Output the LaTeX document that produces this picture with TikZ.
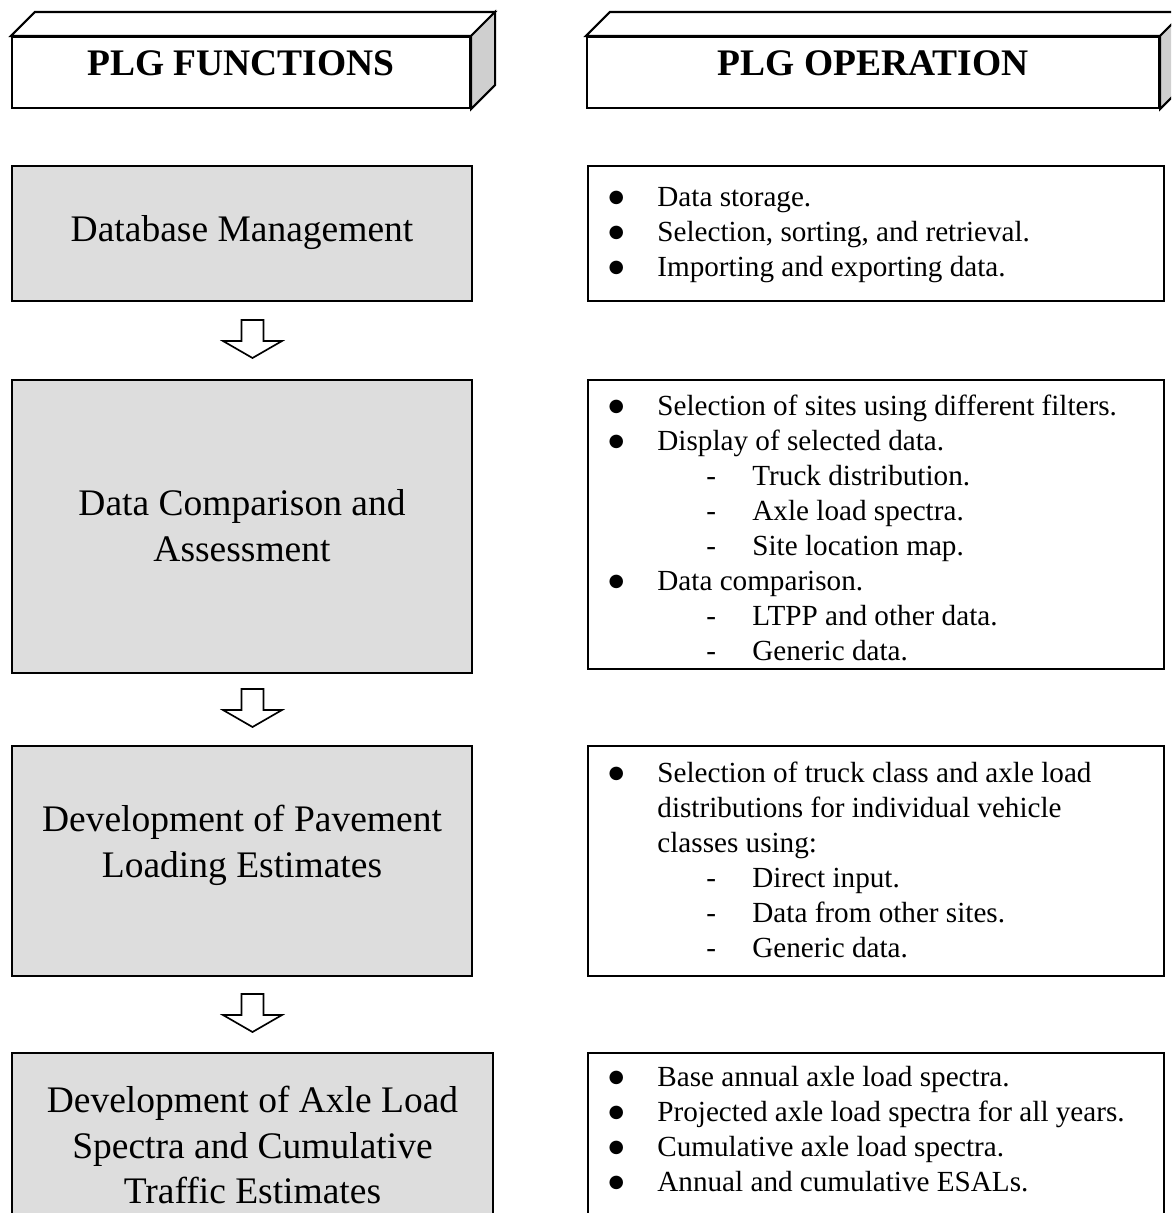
\documentclass[tikz,border=0pt]{standalone}
\usepackage{fontspec}
\setmainfont{Liberation Serif}
\newfontfamily\symfont{DejaVu Sans}
\usetikzlibrary{calc,fit}
\definecolor{boxgray}{HTML}{DDDDDD}
\definecolor{sidegray}{HTML}{CFCFCF}
\newcommand{\bitem}{\makebox[24.96pt][l]{\makebox[10.56pt][c]{\raisebox{2.1pt}{\symfont\fontsize{8.5}{8.5}\selectfont ●}}}}
\newcommand{\ditem}{\makebox[70.56pt][l]{\hspace{48.5pt}-}}
\newcommand{\cont}{\hspace*{24.96pt}}

\begin{document}
\begin{tikzpicture}[x=0.48pt,y=-0.48pt,
  fnbox/.style={draw,line width=1pt,fill=boxgray,inner sep=0pt},
  opbox/.style={draw,line width=1pt,fill=white,inner sep=0pt},
  hdrbox/.style={draw,line width=1pt,fill=white,inner sep=0pt},
  hdrtext/.style={inner sep=0pt,font=\bfseries\fontsize{18}{21.5}\selectfont},
  fntext/.style={align=center,inner sep=0pt,font=\fontsize{18}{22}\selectfont},
  optext/.style={align=left,inner sep=0pt,anchor=north west,font=\fontsize{14}{16.8}\selectfont},
  hollow/.style={draw,line width=0.8pt,fill=white,line join=miter}]

  \useasboundingbox (0,0) rectangle (1171,1213);
  \clip (0,0) rectangle (1171,1213);

  % column headers
  \node[hdrbox,fit={(12,37) (470,108)}] (hfun) {};
  \node[hdrbox,fit={(587,37) (1159,108)}] (hop) {};
  \foreach \h in {hfun,hop}{
    \draw[line width=1pt,fill=white] (\h.north west) -- ++(24,-24) -- ($(\h.north east)+(24,-24)$) -- (\h.north east) -- cycle;
    \draw[line width=1pt,fill=sidegray] (\h.north east) -- ++(24,-24) -- ($(\h.south east)+(24,-24)$) -- (\h.south east) -- cycle;
  }
  \node[hdrtext] (hfunt) at (241,63) {PLG FUNCTIONS};
  \node[hdrtext] (hopt) at (873,63) {PLG OPERATION};

  % functions
  \node[fnbox,fit={(12,166) (472,301)}] (f1) {};
  \node[fnbox,fit={(12,380) (472,673)}] (f2) {};
  \node[fnbox,fit={(12,746) (472,976)}] (f3) {};
  \node[fnbox,fit={(12,1053) (493,1240)}] (f4) {};
  \node[fntext] (t1) at (242,233) {Database Management};
  \node[fntext] (t2) at (242,526) {Data Comparison and\\Assessment};
  \node[fntext] (t3) at (242,845) {Development of Pavement\\Loading Estimates};
  \node[fntext] (t4) at (252.5,1145) {Development of Axle Load\\Spectra and Cumulative\\Traffic Estimates};

  % block arrows between functions
  \foreach \a/\b [count=\i] in {f1/f2,f2/f3,f3/f4}{
    \coordinate (m\i) at ($(\a.south |- \b.north)!0.5!(\a.south)+(10.5,-1.5)$);
    \draw[hollow] ($(m\i)+(-11,-19)$) -- ($(m\i)+(11,-19)$) -- ($(m\i)+(11,2)$) -- ($(m\i)+(29.5,2)$)
      -- ($(m\i)+(0,19)$) -- ($(m\i)+(-29.5,2)$) -- ($(m\i)+(-11,2)$) -- cycle;
  }

  % operation
  \node[opbox,fit={(588,166) (1164,301)}] (o1) {};
  \node[opbox,fit={(588,380) (1164,669)}] (o2) {};
  \node[opbox,fit={(588,746) (1164,976)}] (o3) {};
  \node[opbox,fit={(588,1053) (1164,1240)}] (o4) {};
  \node[optext] (l1) at (605,187) {\bitem Data storage.\\
    \bitem Selection, sorting, and retrieval.\\
    \bitem Importing and exporting data.};
  \node[optext] (l2) at (605,395) {\bitem Selection of sites using different filters.\\
    \bitem Display of selected data.\\
    \ditem Truck distribution.\\
    \ditem Axle load spectra.\\
    \ditem Site location map.\\
    \bitem Data comparison.\\
    \ditem LTPP and other data.\\
    \ditem Generic data.};
  \node[optext] (l3) at (605,762) {\bitem Selection of truck class and axle load\\
    \cont distributions for individual vehicle\\
    \cont classes using:\\
    \ditem Direct input.\\
    \ditem Data from other sites.\\
    \ditem Generic data.};
  \node[optext] (l4) at (605,1066) {\bitem Base annual axle load spectra.\\
    \bitem Projected axle load spectra for all years.\\
    \bitem Cumulative axle load spectra.\\
    \bitem Annual and cumulative ESALs.};
\end{tikzpicture}
\end{document}
